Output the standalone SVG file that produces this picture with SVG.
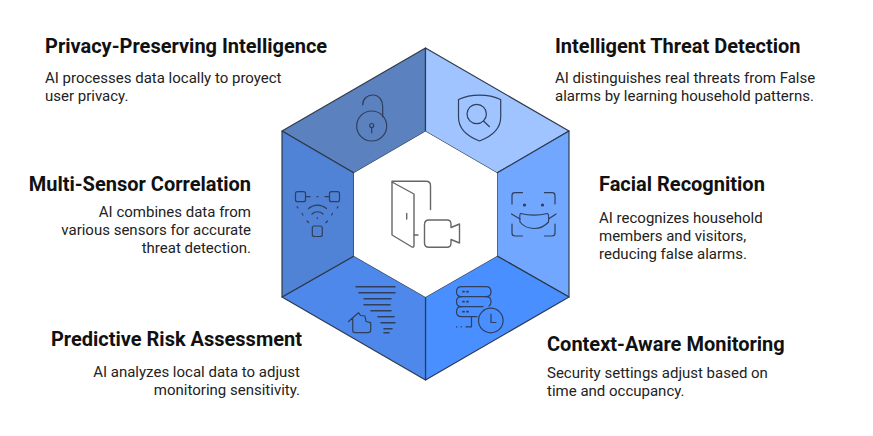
<svg xmlns="http://www.w3.org/2000/svg" width="873" height="436" viewBox="0 0 873 436">
<style>
text{font-family:Roboto,"Liberation Sans",sans-serif;fill:#111}
.h{font-size:20px;font-weight:700}
.b{font-size:15px;fill:#222}
.e{text-anchor:end}
.seg{stroke:#2f3a4d;stroke-width:1.2;stroke-linejoin:round}
.i{fill:none;stroke:#2f3f5c;stroke-width:1.2;stroke-linecap:round;stroke-linejoin:round}
.d{fill:none;stroke:#666;stroke-width:1.4;stroke-linecap:round;stroke-linejoin:round}
.t{stroke-width:1.5}
</style>
<rect width="873" height="436" fill="#fff"/>
<g id="privacy">
<path class="seg" fill="#5B82BE" d="M425.500 48V131.500L354 173L282 131Z"/>
<g class="i"><circle cx="371.700" cy="126" r="15"/><path d="M362.700 105C362.700 99 367 95 372.700 95C378.700 95 382.700 100 382.700 106V117"/><circle cx="371.700" cy="125.500" r="2"/><path d="M371.700 127.500V133"/></g>
<text class="h" x="45" y="53">Privacy-Preserving Intelligence</text>
<text class="b" x="45" y="83">AI processes data locally to proyect</text>
<text class="b" x="45" y="101">user privacy.</text>
</g>
<g id="threat">
<path class="seg" fill="#A0C4FF" d="M425.500 48L569 131L497 173L425.500 131.500Z"/>
<g class="i"><path d="M458.500 99.500C471 93.700 488 93.700 500.700 99.500V117C500.700 130 490 137 479.500 141C469 137 458.500 130 458.500 117Z"/><circle cx="476.700" cy="114" r="9.700"/><path d="M483.500 121L489.500 126.700"/></g>
<text class="h" x="555" y="53">Intelligent Threat Detection</text>
<text class="b" x="555" y="83">AI distinguishes real threats from False</text>
<text class="b" x="555" y="101">alarms by learning household patterns.</text>
</g>
<g id="facial">
<path class="seg" fill="#71A7FF" d="M569 131V297L497 256V173Z"/>
<g class="i"><path d="M512 204V195.500Q512 192.700 515 192.700H522.500M544.500 192.700H552Q555 192.700 555 195.500V204M512 224V233Q512 236 515 236H522.500M544.500 236H552Q555 236 555 233V224"/><circle cx="524.500" cy="205" r="1" fill="#2f3f5c"/><circle cx="542.500" cy="205" r="1" fill="#2f3f5c"/><path d="M520.500 213.500C529 215.500 539 215.500 547.500 213.500C549 214 549 216 548.500 222C545 226 539 228.500 534 228.500C529 228.500 523 226 520 222C519.500 216 519.500 214 520.500 213.500Z"/><path d="M511.500 214L520 219M556 214L548.500 219"/></g>
<text class="h" x="599" y="191">Facial Recognition</text>
<text class="b" x="599" y="223">AI recognizes household</text>
<text class="b" x="599" y="241">members and visitors,</text>
<text class="b" x="599" y="259">reducing false alarms.</text>
</g>
<g id="context">
<path class="seg" fill="#4A8FFF" d="M569 297L425.500 380V297L497 256Z"/>
<g class="i"><path d="M461.500 286.700H486Q491 286.700 491 291.700Q491 296.700 486 296.700H461.500Q456.500 296.700 456.500 291.700Q456.500 286.700 461.500 286.700Z"/><path d="M486 296.700Q491 296.700 491 301.700Q491 305 489 306M461.500 296.700Q456.500 296.700 456.500 301.700Q456.500 306.700 461.500 306.700H483"/><path d="M461.500 306.700Q456.500 306.700 456.500 311.700Q456.500 316.700 461.500 316.700H477"/><path d="M471.500 316.700V326.800H466M456.500 326.800H457M461 326.800H461.500"/><circle cx="490.800" cy="320.500" r="12.300"/><path d="M491 314V322.500H496"/><path d="M463 291.700H464M467 291.700H468M463 301.700H464M467 301.700H468M463 311.700H464M467 311.700H468" stroke-width="1.800"/></g>
<text class="h" x="547" y="351">Context-Aware Monitoring</text>
<text class="b" x="547" y="378">Security settings adjust based on</text>
<text class="b" x="547" y="396">time and occupancy.</text>
</g>
<g id="risk">
<path class="seg" fill="#4D88EA" d="M282 297L354 256L425.500 297V380Z"/>
<g class="i"><path class="t" d="M356 286.700H395M359 292.700H395M364 298.700H391M364 304.700H390M371 310.700H391M378 316.700H394M381 322.700H395M384 328.700H392M384 332.700H389"/><path d="M348.500 321.500L358.500 312.700L360.500 315.500L365 316L366 321.500L370.700 322.700V330Q370.700 332.700 368 332.700H355Q352.700 332.700 352.700 330V318"/></g>
<text class="h e" x="302" y="346">Predictive Risk Assessment</text>
<text class="b e" x="300" y="377">AI analyzes local data to adjust</text>
<text class="b e" x="300" y="395">monitoring sensitivity.</text>
</g>
<g id="sensor">
<path class="seg" fill="#5082D6" d="M282 131L354 173V256L282 297Z"/>
<g class="i"><rect x="295.500" y="191.700" width="10" height="10" rx="2"/><rect x="329.500" y="191.700" width="10" height="10" rx="2"/><rect x="312.300" y="226" width="10" height="10.500" rx="2"/><path d="M306 196.700H310M317 196.700H318M325 196.700H329M297 206.700L298 208M302 213.500L303 215M307 221L308.500 222.500M338 206.700L337 208M332.500 213.500L331.500 215M327.500 221L326 222.500M308.500 208.500C314 204 321 204 326.500 208.500M312 214C315 211 320 211 323 214M317.300 217.500V218.500"/></g>
<text class="h e" x="251" y="191">Multi-Sensor Correlation</text>
<text class="b e" x="251" y="217">AI combines data from</text>
<text class="b e" x="251" y="235">various sensors for accurate</text>
<text class="b e" x="251" y="253">threat detection.</text>
</g>
<g id="center">
<path fill="#fff" d="M425.500 131.500L497 173V256L425.500 297L354 256V173Z"/>
<g class="d"><path d="M392 181.200H426Q430.500 181.200 430.500 185.500V209.500"/><path d="M392 182L414 194V245.500Q414 247.500 412 247L392 235Z"/><path d="M406.700 213.500V219M414 235H418"/><path d="M429 220H447Q451 220 451 224V227.500L459.500 224V243L451 239.500V243Q451 247.300 447 247.300H429Q424.500 247.300 424.500 243V224.500Q424.500 220 429 220Z"/></g>
</g>
</svg>
